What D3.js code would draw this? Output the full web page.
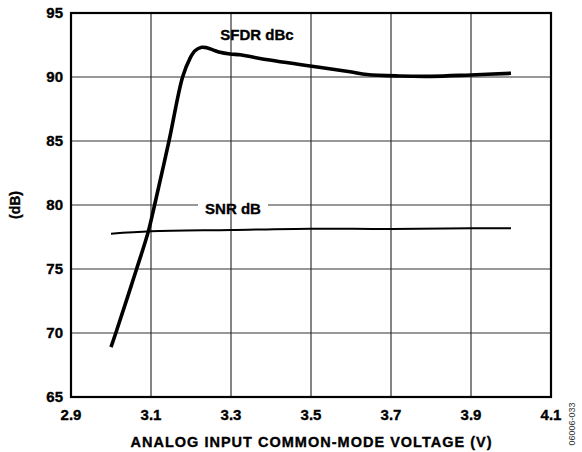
<!DOCTYPE html>
<html>
<head>
<meta charset="utf-8">
<script src="https://cdn.jsdelivr.net/npm/d3@7"></script>
<style>
  html, body { margin: 0; padding: 0; background: #fff; }
  svg { display: block; font-family: "Liberation Sans", Arial, sans-serif; }
  .bold { font-weight: bold; fill: #000; stroke: #000; stroke-width: 0.35px; }
</style>
</head>
<body>
<svg id="chart" width="582" height="452"></svg>
<script>
// Common-mode voltage sweep (V) and measured dynamic performance
const xTicks = [2.9, 3.1, 3.3, 3.5, 3.7, 3.9, 4.1];
const yTicks = [65, 70, 75, 80, 85, 90, 95];

const sfdrVolts = [3.0, 3.012, 3.064, 3.093, 3.109, 3.145, 3.179, 3.1975, 3.21, 3.227, 3.239, 3.256, 3.2725, 3.2975, 3.3225, 3.3475, 3.3725, 3.4975, 3.5975, 3.64, 3.72, 3.8, 3.9, 4.0];
const sfdrDbc = [68.9, 70.0, 75.0, 77.9, 80.0, 85.0, 90.0, 91.46, 92.05, 92.32, 92.29, 92.1, 91.93, 91.8, 91.74, 91.6, 91.45, 90.86, 90.41, 90.2, 90.08, 90.05, 90.16, 90.29];

const snrVolts = [3.0, 3.1, 3.3, 3.5, 3.7, 3.9, 4.0];
const snrDb = [77.76, 77.95, 78.05, 78.15, 78.12, 78.18, 78.18];

const margin = { left: 71, top: 13, right: 31, bottom: 55 };
const W = 582, H = 452;
const iw = W - margin.left - margin.right;
const ih = H - margin.top - margin.bottom;

const svg = d3.select("#chart");
const g = svg.append("g").attr("transform", `translate(${margin.left},${margin.top})`);

const x = d3.scaleLinear().domain([2.9, 4.1]).range([0, iw]);
const y = d3.scaleLinear().domain([65, 95]).range([ih, 0]);

// horizontal grid
g.append("g").selectAll("line").data(yTicks).join("line")
  .attr("x1", 0).attr("x2", iw)
  .attr("y1", d => y(d)).attr("y2", d => y(d))
  .attr("stroke", "#333").attr("stroke-width", 1.2);

// clear the 80 dB gridline behind the SNR label
g.append("rect")
  .attr("x", x(3.0) + 87).attr("y", y(80) - 3)
  .attr("width", 70).attr("height", 6)
  .attr("fill", "#fff");

// vertical grid
g.append("g").selectAll("line").data(xTicks).join("line")
  .attr("x1", d => x(d)).attr("x2", d => x(d))
  .attr("y1", 0).attr("y2", ih)
  .attr("stroke", "#333").attr("stroke-width", 1.2);

// frame
g.append("rect").attr("x", 0).attr("y", 0).attr("width", iw).attr("height", ih)
  .attr("fill", "none").attr("stroke", "#000").attr("stroke-width", 2.2);

// tick labels
g.append("g").selectAll("text").data(yTicks).join("text")
  .attr("class", "bold")
  .attr("x", -8).attr("y", d => y(d)).attr("dy", "0.36em")
  .attr("text-anchor", "end")
  .attr("font-size", 15)
  .text(d => d);

g.append("g").selectAll("text").data(xTicks).join("text")
  .attr("class", "bold")
  .attr("x", d => x(d)).attr("y", ih + 18).attr("dy", "0.36em")
  .attr("text-anchor", "middle")
  .attr("font-size", 15)
  .text(d => d3.format(".1f")(d));

// axis titles
svg.append("text")
  .attr("class", "bold")
  .attr("x", margin.left + iw / 2).attr("y", 442).attr("dy", "0.36em")
  .attr("text-anchor", "middle")
  .attr("font-size", 14.5)
  .attr("textLength", 361).attr("lengthAdjust", "spacing")
  .text("ANALOG INPUT COMMON-MODE VOLTAGE (V)");

svg.append("text")
  .attr("class", "bold")
  .attr("transform", "translate(15,205) rotate(-90)")
  .attr("dy", "0.36em")
  .attr("text-anchor", "middle")
  .attr("font-size", 14)
  .text("(dB)");

svg.append("text")
  .attr("transform", "translate(572,424) rotate(-90)")
  .attr("dy", "0.36em")
  .attr("text-anchor", "middle")
  .attr("font-size", 9).attr("fill", "#333")
  .text("06006-033");

// curves
const line = d3.line()
  .x(d => x(d[0])).y(d => y(d[1]))
  .curve(d3.curveCatmullRom.alpha(0.5));

g.append("path")
  .datum(d3.zip(snrVolts, snrDb))
  .attr("d", line)
  .attr("fill", "none").attr("stroke", "#000").attr("stroke-width", 2);

g.append("path")
  .datum(d3.zip(sfdrVolts, sfdrDbc))
  .attr("d", line)
  .attr("fill", "none").attr("stroke", "#000").attr("stroke-width", 3.6)
  .attr("stroke-linecap", "butt").attr("stroke-linejoin", "round");

// series labels
g.append("text")
  .attr("class", "bold")
  .attr("x", x(3.365)).attr("y", y(93.3)).attr("dy", "0.36em")
  .attr("text-anchor", "middle")
  .attr("font-size", 15)
  .text("SFDR dBc");

g.append("text")
  .attr("class", "bold")
  .attr("x", x(3.3) + 2).attr("y", y(79.7)).attr("dy", "0.36em")
  .attr("text-anchor", "middle")
  .attr("font-size", 15)
  .text("SNR dB");
</script>
</body>
</html>
